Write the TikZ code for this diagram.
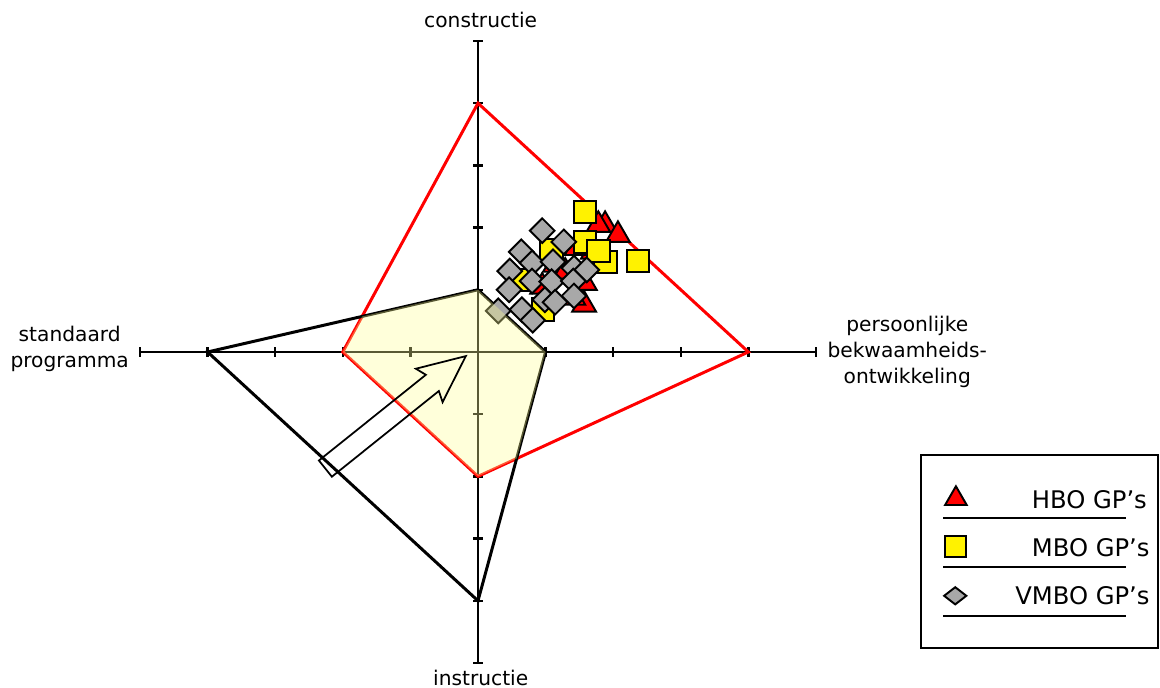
\documentclass[tikz,border=0pt]{standalone}
\usepackage{fontspec}
\setmainfont{DejaVu Sans}
\usepackage{tikz}
\usetikzlibrary{positioning, shapes.geometric, shapes.arrows}

\definecolor{markgray}{RGB}{168,168,168}
\definecolor{paleyellow}{RGB}{255,255,150}

\tikzset{
    axis/.style={line width=1.4pt},
    tri/.style={regular polygon, regular polygon sides=3, draw, fill=red, line width=1.1pt, minimum size=0.55cm, inner sep=0pt},
    sq/.style={rectangle, draw, fill=yellow, line width=1.1pt, minimum size=0.45cm, inner sep=0pt},
    dia/.style={diamond, draw, fill=markgray, line width=1.1pt, minimum size=0.51cm, inner sep=0pt},
    lbl/.style={font=\fontsize{11.5}{14.7}\selectfont, align=center, inner sep=0pt},
    lgd/.style={font=\fontsize{13.8}{16}\selectfont, inner sep=0pt, anchor=east},
}

\begin{document}
\begin{tikzpicture}[x=1.352cm, y=1.244cm]
    \useasboundingbox (-7.071,-5.402) rectangle (10.089,5.659);

    % axes with ticks
    \coordinate (l) at (-5,0);
    \coordinate (r) at (5,0);
    \coordinate (t) at (0,5);
    \coordinate (b) at (0,-5);
    \draw [axis] (l) -- (r);
    \draw [axis] (b) -- (t);
    \foreach \i in {-5,...,5} {
        \draw [axis] (\i,0) ++(0pt,-2.8pt) -- ++(0pt,5.6pt);
        \draw [axis] (0,\i) ++(-2.8pt,0pt) -- ++(5.6pt,0pt);
    }

    % the two profiles
    \draw [red, line width=1.7pt] (0,4) -- (4,0) -- (0,-2) -- (-2,0) -- cycle;
    \draw [line width=1.7pt] (0,1) -- (1,0) -- (0,-4) -- (-4,0) -- cycle;

    % scores
    \foreach \x/\y [count=\n] in {1.88/2.04, 2.07/1.88, 1.78/2.04, 1.70/1.61, 0.95/1.05, 1.57/0.76,
                                  1.41/0.87, 1.46/1.67, 1.14/1.40, 1.58/1.11, 1.29/1.29}
        \node (h\n) [tri] at (\x,\y) {};
    \foreach \x/\y [count=\n] in {1.58/2.25, 1.58/1.77, 1.89/1.45, 2.37/1.46, 1.78/1.62, 1.09/1.64,
                                  0.62/1.16, 0.96/0.68}
        \node (m\n) [sq] at (\x,\y) {};
    \foreach \x/\y [count=\n] in {0.95/1.95, 1.27/1.77, 0.64/1.61, 0.80/1.43, 1.11/1.45, 0.47/1.30,
                                  1.42/1.35, 1.61/1.32, 0.80/1.14, 1.09/1.13, 1.41/1.14, 0.46/1.00,
                                  0.99/0.84, 1.42/0.90, 1.14/0.80, 0.65/0.68, 0.81/0.51, 0.30/0.66}
        \node (v\n) [dia] at (\x,\y) {};

    % overlap of both profiles
    \fill [paleyellow, opacity=0.35] (-2,0) -- (-12/7,4/7) -- (0,1) -- (1,0) -- (4/7,-12/7) -- (0,-2) -- cycle;

    \node (shift) [single arrow, draw, line width=1pt, minimum height=3.6cm, minimum width=0.82cm,
        inner sep=0.19cm, single arrow head extend=0.22cm, single arrow tip angle=49,
        single arrow head indent=0.08cm, rotate=38.7] at (-1.35,-1.085) {};

    % axis labels
    \node (con) [lbl] at (0.04,5.34) {constructie};
    \node (ins) [lbl] at (0.04,-5.24) {instructie};
    \node (std) [lbl] at (-6.04,0.05) {standaard\\programma};
    \node (pbo) [lbl] at (6.35,0) {persoonlijke\\bekwaamheids-\\ontwikkeling};

    % legend
    \node (legend) [rectangle, draw, line width=1.1pt, minimum width=4.74cm, minimum height=3.86cm] at (8.306,-3.207) {};
    \node (kh) [tri, minimum size=0.5cm] at (7.07,-2.36) {};
    \node (th) [lgd] at (9.90,-2.38) {HBO GP’s};
    \draw [line width=1pt] (6.88,-2.67) -- (9.59,-2.67);
    \node (km) [sq, minimum size=0.42cm] at (7.07,-3.12) {};
    \node (tm) [lgd] at (9.94,-3.15) {MBO GP’s};
    \draw [line width=1pt] (6.88,-3.46) -- (9.59,-3.46);
    \node (kv) [dia, minimum width=0.46cm, minimum height=0.36cm] at (7.06,-3.92) {};
    \node (tv) [lgd] at (9.94,-3.92) {VMBO GP’s};
    \draw [line width=1pt] (6.88,-4.24) -- (9.59,-4.24);
\end{tikzpicture}
\end{document}
